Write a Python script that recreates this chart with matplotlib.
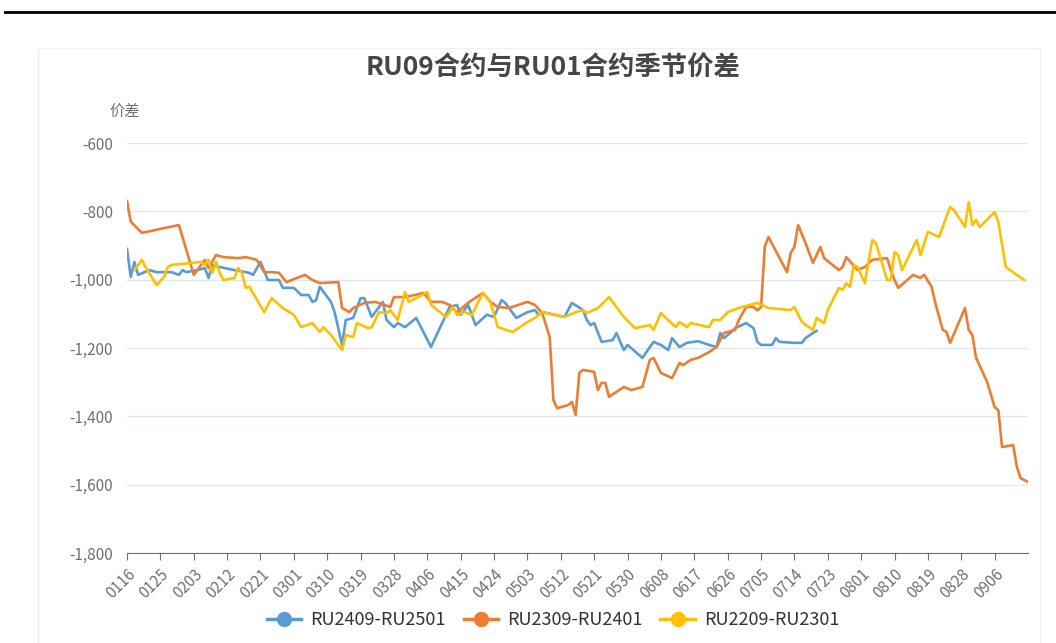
import numpy as np
import pandas as pd
import matplotlib
matplotlib.use("Agg")
import matplotlib.pyplot as plt
from matplotlib.lines import Line2D
from matplotlib.patches import Rectangle
from matplotlib.ticker import FuncFormatter

plt.rcParams['font.family'] = ['Noto Sans CJK SC', 'DejaVu Sans']

# x 轴类别: 0116 ~ 0915 每日
categories = pd.date_range("2024-01-16", "2024-09-15").strftime("%m%d").tolist()

blue_dates = ["0116", "0117", "0118", "0119", "0122", "0124", "0128", "0130", "0131", "0201",
              "0204", "0206", "0207", "0208", "0210", "0214", "0218", "0219", "0221", "0223",
              "0226", "0227", "0301", "0303", "0305", "0306", "0307", "0308", "0311", "0312",
              "0314", "0315", "0317", "0319", "0320", "0322", "0325", "0326", "0328", "0329",
              "0331", "0403", "0407", "0410", "0412", "0414", "0415", "0417", "0419", "0422",
              "0424", "0426", "0427", "0430", "0503", "0505", "0506", "0507", "0513", "0515",
              "0518", "0519", "0520", "0521", "0523", "0526", "0527", "0529", "0530", "0603",
              "0606", "0608", "0610", "0611", "0613", "0615", "0618", "0621", "0623", "0624",
              "0625", "0627", "0628", "0701", "0703", "0704", "0705", "0708", "0709", "0710",
              "0714", "0716", "0717", "0719", "0720"]
blue_vals = [-910, -992, -948, -986, -972, -978, -978, -986, -972, -978,
             -972, -966, -995, -957, -963, -972, -980, -986, -948, -1001,
             -1001, -1024, -1024, -1045, -1045, -1065, -1060, -1021, -1065, -1095,
             -1191, -1118, -1112, -1054, -1054, -1109, -1065, -1118, -1139, -1127,
             -1139, -1112, -1197, -1127, -1080, -1074, -1103, -1074, -1133, -1103,
             -1109, -1060, -1068, -1112, -1095, -1089, -1103, -1095, -1109, -1068,
             -1089, -1118, -1133, -1127, -1182, -1177, -1156, -1206, -1191, -1229,
             -1182, -1191, -1206, -1171, -1197, -1185, -1180, -1191, -1197, -1156,
             -1171, -1153, -1142, -1127, -1142, -1182, -1191, -1191, -1171, -1182,
             -1185, -1185, -1171, -1156, -1150]

orange_dates = ["0116", "0117", "0120", "0130", "0203", "0206", "0207", "0209", "0211", "0215",
                "0217", "0220", "0222", "0224", "0226", "0228", "0304", "0306", "0308", "0313",
                "0314", "0316", "0317", "0320", "0323", "0327", "0328", "0331", "0405", "0407",
                "0410", "0412", "0414", "0417", "0418", "0421", "0423", "0425", "0428", "0503",
                "0505", "0507", "0509", "0510", "0511", "0514", "0515", "0516", "0517", "0518",
                "0521", "0522", "0523", "0524", "0525", "0529", "0531", "0603", "0605", "0606",
                "0608", "0611", "0613", "0614", "0616", "0618", "0621", "0623", "0625", "0628",
                "0629", "0701", "0703", "0704", "0705", "0706", "0707", "0712", "0713", "0714",
                "0715", "0717", "0719", "0721", "0722", "0726", "0727", "0728", "0731", "0802",
                "0804", "0808", "0809", "0810", "0811", "0815", "0817", "0818", "0820", "0821",
                "0823", "0824", "0825", "0829", "0830", "0831", "0901", "0904", "0906", "0907",
                "0908", "0911", "0912", "0913", "0915"]
orange_vals = [-770, -830, -863, -840, -986, -942, -966, -928, -934, -937,
               -934, -942, -978, -978, -980, -1007, -986, -1001, -1010, -1007,
               -1083, -1095, -1083, -1068, -1065, -1080, -1051, -1051, -1039, -1065,
               -1065, -1074, -1095, -1068, -1060, -1039, -1065, -1080, -1083, -1065,
               -1074, -1098, -1168, -1352, -1376, -1367, -1358, -1396, -1273, -1264,
               -1270, -1323, -1302, -1302, -1343, -1314, -1323, -1314, -1235, -1229,
               -1273, -1288, -1244, -1250, -1235, -1229, -1212, -1197, -1156, -1147,
               -1118, -1080, -1080, -1090, -1080, -904, -875, -978, -922, -904,
               -840, -893, -951, -904, -937, -972, -963, -934, -972, -963,
               -942, -937, -972, -1001, -1024, -986, -995, -986, -1021, -1068,
               -1147, -1153, -1185, -1083, -1147, -1162, -1229, -1300, -1373, -1382,
               -1490, -1484, -1548, -1581, -1592]

yellow_dates = ["0118", "0120", "0121", "0124", "0126", "0127", "0128", "0205", "0206", "0207",
                "0208", "0209", "0210", "0211", "0214", "0215", "0216", "0217", "0218", "0222",
                "0224", "0227", "0301", "0303", "0306", "0308", "0309", "0311", "0314", "0315",
                "0317", "0318", "0321", "0322", "0324", "0326", "0327", "0329", "0331", "0401",
                "0403", "0406", "0407", "0411", "0413", "0414", "0416", "0418", "0421", "0423",
                "0425", "0429", "0503", "0505", "0507", "0513", "0516", "0518", "0519", "0522",
                "0525", "0529", "0601", "0605", "0606", "0608", "0612", "0613", "0615", "0616",
                "0621", "0622", "0624", "0626", "0629", "0704", "0707", "0713", "0714", "0716",
                "0719", "0720", "0722", "0723", "0726", "0727", "0728", "0729", "0730", "0731",
                "0802", "0804", "0805", "0808", "0809", "0810", "0811", "0812", "0816", "0817",
                "0819", "0822", "0825", "0826", "0829", "0830", "0831", "0901", "0902", "0906",
                "0907", "0909", "0912", "0914"]
yellow_vals = [-972, -942, -963, -1016, -992, -963, -957, -948, -957, -942,
               -980, -948, -980, -1001, -995, -966, -980, -1024, -1021, -1095,
               -1054, -1083, -1103, -1139, -1127, -1153, -1139, -1162, -1206, -1162,
               -1168, -1127, -1142, -1139, -1095, -1098, -1089, -1118, -1036, -1065,
               -1054, -1036, -1074, -1109, -1080, -1103, -1095, -1103, -1039, -1065,
               -1139, -1153, -1124, -1112, -1095, -1109, -1095, -1089, -1098, -1083,
               -1051, -1109, -1142, -1133, -1147, -1098, -1139, -1124, -1139, -1127,
               -1139, -1118, -1118, -1095, -1083, -1068, -1083, -1089, -1080, -1124,
               -1147, -1112, -1127, -1089, -1024, -1030, -1010, -1021, -957, -963,
               -1010, -884, -893, -1001, -1001, -919, -928, -972, -884, -928,
               -860, -875, -787, -796, -846, -773, -840, -825, -846, -802,
               -831, -963, -986, -1001]

series_names = ["RU2409-RU2501", "RU2309-RU2401", "RU2209-RU2301"]
series_colors = ["#5B9BD5", "#ED7D31", "#FFC000"]

pos = {c: i for i, c in enumerate(categories)}

fig = plt.figure(figsize=(10.56, 6.43), dpi=100)

# 顶部黑线和卡片边框
fig.add_artist(Line2D([5 / 1056, 1], [1 - 12 / 643] * 2, color="black", lw=2))
fig.add_artist(Rectangle((38 / 1056, -0.05), 1002 / 1056, 1 - 48 / 643 + 0.05,
                         fill=False, edgecolor="#F0F0F0", lw=1))

ax = fig.add_axes([127 / 1056, 1 - 553 / 643, 901 / 1056, 410 / 643])

for dates, vals, name, col in zip([blue_dates, orange_dates, yellow_dates],
                                  [blue_vals, orange_vals, yellow_vals],
                                  series_names, series_colors):
    xs = [pos[d] for d in dates]
    ax.plot(xs, vals, color=col, lw=1.9, label=name)

ax.set_xlim(0, len(categories) - 1)
ax.set_ylim(-1800, -600)
ax.set_yticks(np.arange(-1800, -599, 200))
ax.yaxis.set_major_formatter(FuncFormatter(lambda v, p: f"{int(v):,}"))
ax.grid(axis="y", color="#E0E6F1", lw=1)
ax.set_axisbelow(True)

ticks = list(range(0, len(categories) - 1, 9))
ax.set_xticks(ticks)
ax.set_xticklabels([categories[i] for i in ticks], rotation=45, ha="right",
                   va="top", rotation_mode="anchor")

for s in ["top", "right", "left"]:
    ax.spines[s].set_visible(False)
ax.spines["bottom"].set_color("#6E7079")
ax.tick_params(axis="x", colors="#6E7079", labelcolor="#6E7079", length=5,
               labelsize=11, pad=4)
ax.tick_params(axis="y", length=0, labelcolor="#6E7079", labelsize=11, pad=10)

fig.text(553 / 1056, 1 - 68 / 643, "RU09合约与RU01合约季节价差", ha="center",
         va="center", fontsize=19, fontweight="bold", color="#464646")
fig.text(125 / 1056, 1 - 111 / 643, "价差", ha="center", va="center",
         fontsize=11, color="#6E7079")

handles = [Line2D([0], [0], color=c, lw=2.5, marker="o", markersize=10)
           for c in series_colors]
fig.legend(handles, series_names, loc="center", bbox_to_anchor=(553 / 1056, 1 - 620 / 643),
           ncol=3, frameon=False, fontsize=13, handlelength=1.9, columnspacing=1.0,
           labelcolor="#333333", handletextpad=0.5)

plt.savefig("out.png", dpi=100)
